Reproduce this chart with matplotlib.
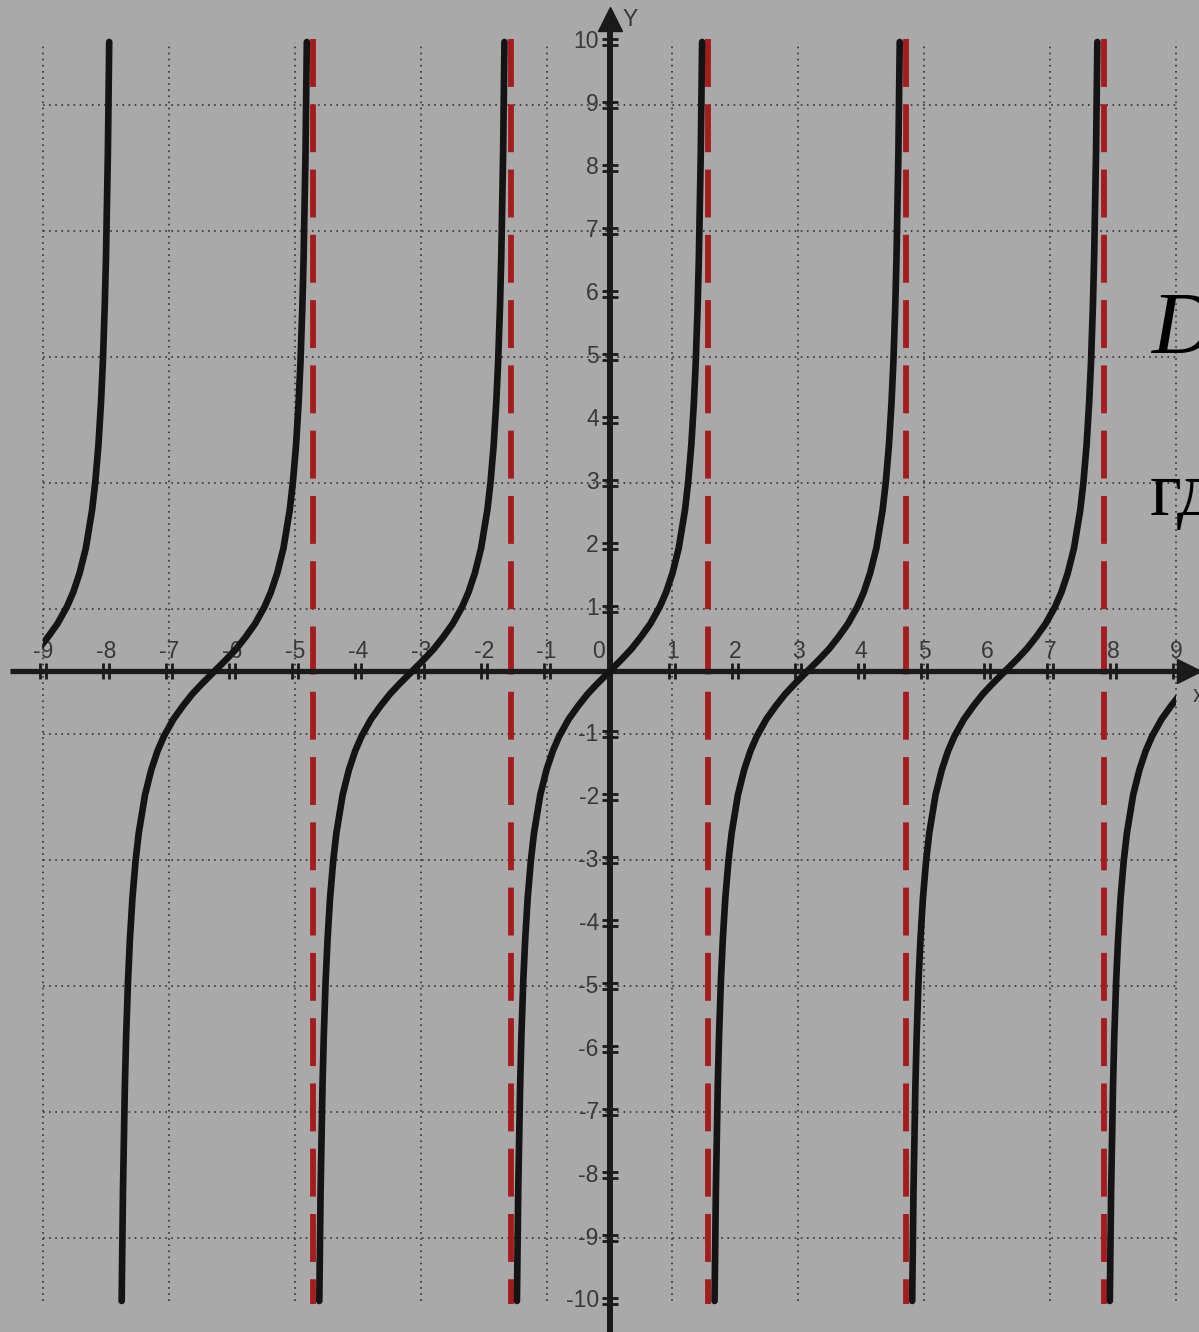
import matplotlib
matplotlib.use("Agg")
import matplotlib.pyplot as plt
from matplotlib.path import Path
from matplotlib.patches import Rectangle

# ---- data ----
# one branch of the curve: offset from its zero crossing, and y value
branch_dx = [-1.471, -1.45, -1.42, -1.40, -1.37, -1.34, -1.30, -1.25, -1.20, -1.10,
             -1.00, -0.90, -0.80, -0.65, -0.50, -0.35, -0.20, 0.0,
             0.20, 0.35, 0.50, 0.65, 0.80, 0.90, 1.00, 1.10, 1.20, 1.25, 1.30,
             1.34, 1.37, 1.40, 1.42, 1.45, 1.471]
branch_y = [-10.0, -8.24, -6.58, -5.80, -4.91, -4.26, -3.60, -3.01, -2.57, -1.96,
            -1.56, -1.26, -1.03, -0.76, -0.55, -0.36, -0.20, 0.0,
            0.20, 0.36, 0.55, 0.76, 1.03, 1.26, 1.56, 1.96, 2.57, 3.01, 3.60,
            4.26, 4.91, 5.80, 6.58, 8.24, 10.0]
# zero crossings of the branches
branch_centres = [-9.42, -6.28, -3.14, 0.0, 3.14, 6.28, 9.42]
# red dashed asymptotes
asymptotes = [-4.71, -1.57, 1.57, 4.71, 7.85]
x_ticks = [-9, -8, -7, -6, -5, -4, -3, -2, -1, 1, 2, 3, 4, 5, 6, 7, 8, 9]
y_ticks = [-10, -9, -8, -7, -6, -5, -4, -3, -2, -1, 1, 2, 3, 4, 5, 6, 7, 8, 9, 10]
grid_x = [-9, -7, -5, -3, -1, 1, 3, 5, 7, 9]
grid_y = [-9, -7, -5, -3, -1, 1, 3, 5, 7, 9]

plt.rcParams['lines.scale_dashes'] = False

fig = plt.figure(figsize=(11.99, 13.32), dpi=100)
bg = '#a9a9a9'
fig.patch.set_facecolor(bg)
ax = fig.add_axes([0, 0, 1, 1])
ax.set_facecolor(bg)
ax.set_xlim(-9.684, 9.366)
ax.set_ylim(-10.493, 10.667)
ax.axis('off')

# grid
for gx in grid_x:
    ax.plot([gx, gx], [-10, 10], color='#3c3c3c', lw=1.3, ls=(0, (1.2, 3.2)), zorder=1)
for gy in grid_y:
    ax.plot([-9, 9], [gy, gy], color='#3c3c3c', lw=1.3, ls=(0, (1.2, 3.2)), zorder=1)

# asymptotes
for a in asymptotes:
    ax.plot([a, a], [10.05, -10.05], color='#a51c1c', lw=4.2, ls=(0, (34.5, 12.5)),
            solid_capstyle='butt', dash_capstyle='butt', zorder=3)

# axes
axc = '#1a1a1a'
ax.plot([-9.52, 9.2], [0, 0], color=axc, lw=3.8, zorder=4, solid_capstyle='butt')
ax.plot([9.2], [0], marker='>', ms=17, color=axc, zorder=4, clip_on=False)
ax.plot([0, 0], [-10.6, 10.25], color=axc, lw=4.3, zorder=4, solid_capstyle='butt')
ax.plot([0], [10.36], marker='^', ms=17, color=axc, zorder=4)

# double tick marks
vtick = Path([(-0.35, -1), (-0.35, 1), (0.35, -1), (0.35, 1)],
             [Path.MOVETO, Path.LINETO, Path.MOVETO, Path.LINETO])
htick = Path([(-1, -0.35), (1, -0.35), (-1, 0.35), (1, 0.35)],
             [Path.MOVETO, Path.LINETO, Path.MOVETO, Path.LINETO])
ax.plot(x_ticks, [0] * len(x_ticks), ls='none', marker=vtick, ms=11, mew=2.0,
        mec=axc, zorder=5)
ax.plot([0] * len(y_ticks), y_ticks, ls='none', marker=htick, ms=11, mew=2.0,
        mec=axc, zorder=5)

lab_c = '#383838'
for t in x_ticks:
    ax.text(t, 0.14, str(t), ha='center', va='bottom', fontsize=16.5,
            color=lab_c, family='Liberation Sans', zorder=2)
for t in y_ticks:
    ax.text(-0.17, t, str(t), ha='right', va='center', fontsize=16.5,
            color=lab_c, family='Liberation Sans', zorder=2)
ax.text(-0.08, 0.14, '0', ha='right', va='bottom', fontsize=16.5, color=lab_c,
        family='Liberation Sans', zorder=2)
ax.text(0.2, 10.35, 'Y', ha='left', va='center', fontsize=16.5, color=lab_c,
        family='Liberation Sans')
ax.text(9.27, -0.38, 'x', ha='left', va='center', fontsize=16.5, color=lab_c,
        family='Liberation Sans')

# curve branches
clip = Rectangle((-9, -10.5), 18, 21, transform=ax.transData)
for c in branch_centres:
    xs = [c + d for d in branch_dx]
    ln, = ax.plot(xs, branch_y, color='#141414', lw=4.8, zorder=6,
                  solid_capstyle='round', solid_joinstyle='round')
    ln.set_clip_path(clip)

# overlapping slide text (cut at the right edge, as in the reference)
ax.text(8.62, 5.06, 'D', fontsize=63, style='italic', family='Liberation Serif',
        color='black', ha='left', va='baseline', zorder=7)
ax.text(8.58, 2.49, 'гд', fontsize=56, family='Liberation Serif',
        color='black', ha='left', va='baseline', zorder=7)

fig.savefig('out.png', dpi=100, facecolor=bg)
